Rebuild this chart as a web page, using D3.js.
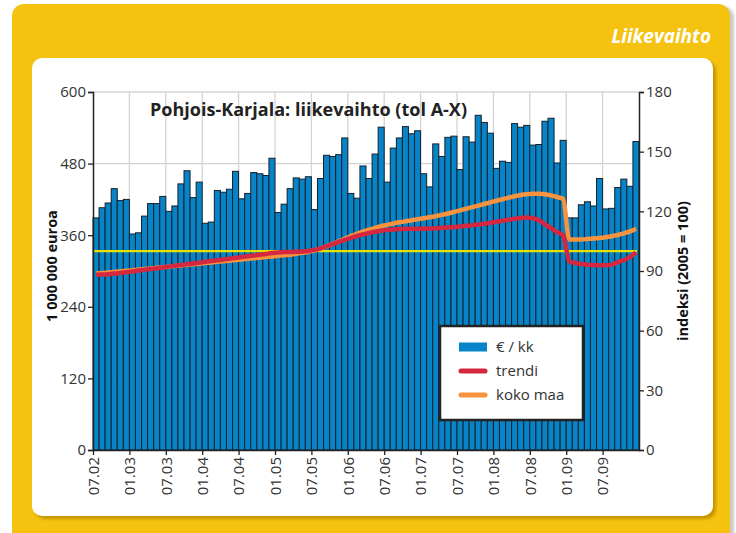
<!DOCTYPE html>
<html>
<head>
<meta charset="utf-8">
<script src="https://cdn.jsdelivr.net/npm/d3@7"></script>
<style>
  body { margin: 0; background: #fff; }
  text { font-family: "Open Sans", "Noto Sans", sans-serif; }
</style>
</head>
<body>
<svg id="chart" width="736" height="533"></svg>
<script>
// --- data ---
const startMonth = new Date(2002, 6, 1);   // 07.02
const endMonth = new Date(2010, 0, 1);     // after 12.09

// € / kk, million euros, one per month
const turnover = [
  389, 406, 414, 438, 418, 420, 362, 364, 392, 413, 413, 425,
  400, 409, 446, 468, 423, 449, 380, 382, 435, 432, 437, 467,
  421, 430, 465, 463, 460, 489, 398, 412, 438, 456, 454, 458,
  403, 455, 494, 492, 495, 523, 430, 422, 476, 455, 496, 541,
  449, 506, 523, 542, 530, 535, 463, 441, 513, 492, 524, 526,
  470, 525, 516, 561, 549, 531, 472, 484, 482, 547, 541, 544,
  511, 512, 551, 556, 481, 519, 389, 389, 411, 416, 409, 455,
  404, 405, 440, 454, 442, 517
];

// trendi, index 2005 = 100
const trend = [
  88.1, 88.2, 88.4, 88.7, 89.0, 89.4, 89.8, 90.2, 90.6, 91.0, 91.4, 91.8,
  92.2, 92.6, 93.0, 93.4, 93.8, 94.2, 94.6, 95.0, 95.4, 95.8, 96.2, 96.6,
  97.0, 97.4, 97.8, 98.2, 98.6, 99.0, 99.3, 99.5, 99.6, 99.7, 99.8, 100.1,
  100.6, 101.4, 102.4, 103.5, 104.6, 105.7, 106.7, 107.6, 108.4, 109.1, 109.7, 110.2,
  110.6, 110.9, 111.1, 111.2, 111.3, 111.3, 111.3, 111.4, 111.5, 111.7, 111.9, 112.1,
  112.4, 112.7, 113.0, 113.4, 113.8, 114.3, 114.8, 115.3, 115.8, 116.3, 116.7, 116.9,
  116.5, 115.5, 113.5, 111.5, 109.5, 107.8, 95.0, 94.0, 93.5, 93.2, 93.0, 92.9,
  92.9, 93.2, 94.5, 95.5, 97.0, 99.3
];

// koko maa, index 2005 = 100
const wholeCountry = [
  88.8, 89.0, 89.3, 89.5, 89.8, 90.1, 90.4, 90.7, 91.0, 91.3, 91.6, 91.9,
  92.2, 92.5, 92.8, 93.1, 93.4, 93.7, 94.0, 94.3, 94.6, 94.9, 95.2, 95.5,
  95.8, 96.1, 96.4, 96.7, 97.0, 97.3, 97.6, 97.9, 98.2, 98.6, 99.1, 99.7,
  100.4, 101.3, 102.4, 103.6, 104.9, 106.2, 107.5, 108.7, 109.8, 110.8, 111.7, 112.5,
  113.2, 113.9, 114.5, 115.0, 115.5, 116.0, 116.5, 117.0, 117.6, 118.2, 118.9, 119.7,
  120.5, 121.3, 122.1, 122.9, 123.7, 124.5, 125.3, 126.1, 126.9, 127.6, 128.2, 128.6,
  128.8, 128.8, 128.6, 128.0, 127.2, 126.2, 105.8, 105.8, 105.9, 106.1, 106.3, 106.6,
  107.0, 107.5, 108.1, 108.9, 109.9, 111.3
];

const baseIndex = 100;
const leftTicks = [0, 120, 240, 360, 480, 600];
const rightTicks = [0, 30, 60, 90, 120, 150, 180];

const legendItems = [
  { label: "€ / kk", kind: "bar" },
  { label: "trendi", kind: "trend" },
  { label: "koko maa", kind: "country" }
];

const colors = {
  bar: "#0784c8",
  trend: "#d5273f",
  country: "#f7923e",
  base: "#e4e000",
  frame: "#f5c20f"
};

// --- layout ---
const margin = { top: 92, right: 97, bottom: 83, left: 93 };
const width = 736, height = 533;
const innerRight = width - margin.right;
const innerBottom = height - margin.bottom;

const $svg = d3.select("#chart");

// frame: yellow card + white panel
const defs = $svg.append("defs");
defs.append("filter").attr("id", "soft")
  .append("feGaussianBlur").attr("stdDeviation", 1.5);

$svg.append("rect").attr("x", 16).attr("y", 6).attr("width", 718).attr("height", 560)
  .attr("rx", 12).attr("fill", "#c8c8c8").attr("filter", "url(#soft)");
$svg.append("rect").attr("x", 12).attr("y", 4).attr("width", 718).attr("height", 560)
  .attr("rx", 12).attr("fill", colors.frame);
$svg.append("rect").attr("x", 35).attr("y", 61).attr("width", 681).attr("height", 458)
  .attr("rx", 10).attr("fill", "#c39400").attr("filter", "url(#soft)");
$svg.append("rect").attr("x", 32).attr("y", 58).attr("width", 681).attr("height", 458)
  .attr("rx", 10).attr("fill", "#fff");

$svg.append("text")
  .attr("x", 711).attr("y", 43)
  .attr("text-anchor", "end")
  .attr("fill", "#fff")
  .attr("font-size", 19).attr("font-weight", 700).attr("font-style", "italic")
  .text("Liikevaihto");

// --- scales ---
const months = d3.timeMonth.range(startMonth, endMonth);

const x = d3.scaleBand()
  .domain(months.map((d, i) => i))
  .range([margin.left, innerRight])
  .padding(0);

// continuous twin of x, used for the tick positions at month starts
const xTick = d3.scaleLinear()
  .domain([0, months.length])
  .range([margin.left, innerRight]);

const y = d3.scaleLinear().domain([0, 600]).range([innerBottom, margin.top]);
const yIdx = d3.scaleLinear().domain([0, 180]).range([innerBottom, margin.top]);

const halfYears = months.map((d, i) => i).filter(i => months[i].getMonth() % 6 === 0);
const fmt = d3.timeFormat("%m.%y");

// grid
const $grid = $svg.append("g").attr("stroke", "#d4d4d4").attr("stroke-width", 1.3);
$grid.selectAll("line.v").data(halfYears.slice(1)).join("line")
  .attr("x1", d => xTick(d)).attr("x2", d => xTick(d))
  .attr("y1", margin.top).attr("y2", innerBottom);
$grid.selectAll("line.h").data(leftTicks.slice(1)).join("line")
  .attr("x1", margin.left).attr("x2", innerRight)
  .attr("y1", d => y(d)).attr("y2", d => y(d));

// bars
$svg.append("g")
  .selectAll("rect")
  .data(turnover)
  .join("rect")
    .attr("x", (d, i) => x(i))
    .attr("y", d => y(d))
    .attr("width", x.bandwidth())
    .attr("height", d => innerBottom - y(d))
    .attr("fill", colors.bar)
    .attr("stroke", "#14202a")
    .attr("stroke-width", 1);

// index 100 line
$svg.append("line")
  .attr("x1", margin.left).attr("x2", innerRight - 2)
  .attr("y1", yIdx(baseIndex)).attr("y2", yIdx(baseIndex))
  .attr("stroke", colors.base).attr("stroke-width", 2.2);

const line = d3.line()
  .x((d, i) => x(i) + x.bandwidth() / 2)
  .y(d => yIdx(d))
  .curve(d3.curveMonotoneX);

$svg.append("path").datum(wholeCountry)
  .attr("d", line).attr("fill", "none")
  .attr("stroke", colors.country).attr("stroke-width", 4.5)
  .attr("stroke-linejoin", "round");

$svg.append("path").datum(trend)
  .attr("d", line).attr("fill", "none")
  .attr("stroke", colors.trend).attr("stroke-width", 4.5)
  .attr("stroke-linejoin", "round");

// --- axes ---
const styleAxis = g => {
  g.select(".domain").attr("stroke", "#222").attr("stroke-width", 1.5);
  g.selectAll(".tick line").attr("stroke", "#222").attr("stroke-width", 1.3);
  g.selectAll(".tick text")
    .attr("fill", "#333")
    .attr("font-size", 15)
    .attr("font-family", "'Open Sans', sans-serif");
};

$svg.append("g")
  .attr("transform", `translate(${margin.left},0)`)
  .call(d3.axisLeft(y).tickValues(leftTicks).tickSize(5).tickPadding(2).tickFormat(d3.format("d")))
  .call(styleAxis);

$svg.append("g")
  .attr("transform", `translate(${innerRight},0)`)
  .call(d3.axisRight(yIdx).tickValues(rightTicks).tickSize(5).tickPadding(2))
  .call(styleAxis);

$svg.append("g")
  .attr("transform", `translate(0,${innerBottom})`)
  .call(d3.axisBottom(xTick).tickValues(halfYears).tickSize(5).tickSizeOuter(0)
    .tickFormat(i => fmt(months[i])))
  .call(styleAxis)
  .call(g => g.selectAll(".tick text")
    .attr("transform", "rotate(-90)")
    .attr("text-anchor", "end")
    .attr("x", -7).attr("y", 0).attr("dy", "0.35em"));

// axis titles
$svg.append("text")
  .attr("transform", "translate(57,266) rotate(-90)")
  .attr("text-anchor", "middle")
  .attr("font-size", 14.5).attr("font-weight", 700).attr("fill", "#111")
  .text("1 000 000 euroa");

$svg.append("text")
  .attr("transform", "translate(688,271) rotate(-90)")
  .attr("text-anchor", "middle")
  .attr("font-size", 14.5).attr("font-weight", 700).attr("fill", "#111")
  .text("indeksi (2005 = 100)");

// chart title
$svg.append("text")
  .attr("x", 150).attr("y", 116)
  .attr("font-size", 18).attr("font-weight", 700).attr("fill", "#222")
  .attr("textLength", 317).attr("lengthAdjust", "spacingAndGlyphs")
  .text("Pohjois-Karjala: liikevaihto (tol A-X)");

// --- legend ---
const $legend = $svg.append("g").attr("transform", "translate(440,326)");
$legend.append("rect")
  .attr("width", 143).attr("height", 94)
  .attr("fill", "#fff").attr("stroke", "#222").attr("stroke-width", 2.5);

const $item = $legend.selectAll("g.item").data(legendItems).join("g")
  .attr("transform", (d, i) => `translate(0,${21 + i * 24})`);

$item.filter(d => d.kind === "bar").append("rect")
  .attr("x", 19).attr("y", -4.5).attr("width", 28).attr("height", 9)
  .attr("fill", colors.bar);

$item.filter(d => d.kind !== "bar").append("line")
  .attr("x1", 21).attr("x2", 45)
  .attr("stroke", d => colors[d.kind]).attr("stroke-width", 5)
  .attr("stroke-linecap", "round");

$item.append("text")
  .attr("x", 56).attr("dy", "0.35em")
  .attr("font-size", 15).attr("fill", "#333")
  .text(d => d.label);
</script>
</body>
</html>
